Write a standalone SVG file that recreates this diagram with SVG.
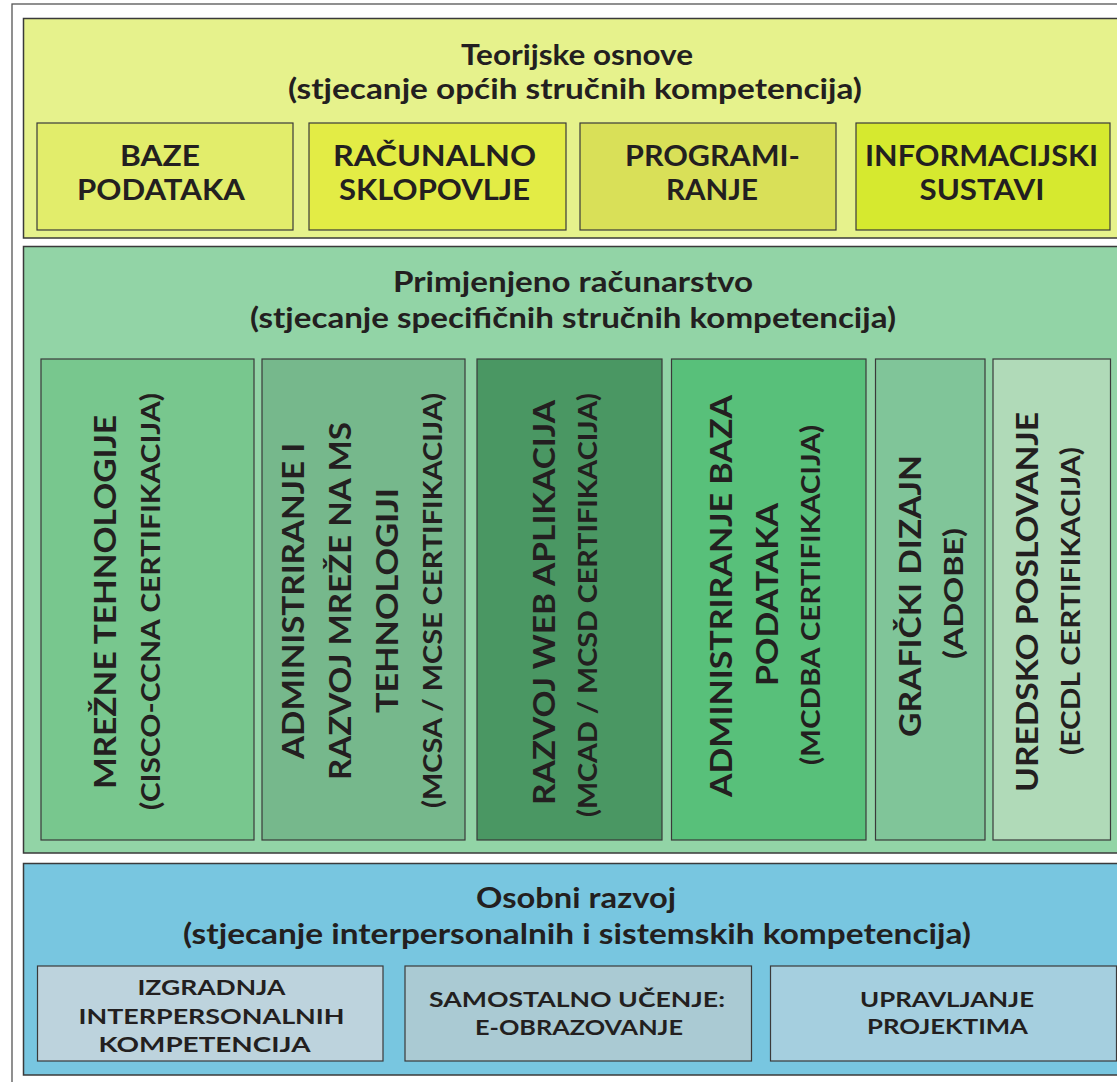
<svg xmlns="http://www.w3.org/2000/svg" width="1117" height="1082" viewBox="0 0 1117 1082">
<style>
.frame{fill:#ffffff;stroke:#555555;stroke-width:1.3}
.sec{stroke:#3a3a3a;stroke-width:1.5}
.box{stroke:#3a3a3a;stroke-width:1.2}
text{font-family:Lato,"Open Sans","Liberation Sans",sans-serif;font-weight:bold;fill:#231f20}
.t{font-size:29px;text-anchor:middle}
.b{font-size:28px;text-anchor:middle}
.s{font-size:20px;text-anchor:middle}
.v{font-size:31px;text-anchor:middle}
.p{font-size:26px;text-anchor:middle}
</style>
<rect class="frame" x="12" y="4" width="1200" height="1200"/>

<g id="teorijske-osnove">
<rect class="sec" x="23.5" y="18.5" width="1110" height="219.5" fill="#e6f28c"/>
<text class="t" x="577" y="64.5" textLength="232" lengthAdjust="spacingAndGlyphs">Teorijske osnove</text>
<text class="t" x="575" y="99" textLength="574" lengthAdjust="spacingAndGlyphs">(stjecanje općih stručnih kompetencija)</text>
</g>
<g id="baze-podataka">
<rect class="box" x="37" y="123" width="256" height="107" fill="#e2ed6b"/>
<text class="b" x="160" y="166" textLength="80" lengthAdjust="spacingAndGlyphs">BAZE</text>
<text class="b" x="161" y="199.5" textLength="168" lengthAdjust="spacingAndGlyphs">PODATAKA</text>
</g>
<g id="racunalno-sklopovlje">
<rect class="box" x="309" y="123" width="257" height="107" fill="#e3ec45"/>
<text class="b" x="434.5" y="166" textLength="203" lengthAdjust="spacingAndGlyphs">RAČUNALNO</text>
<text class="b" x="434.5" y="199.5" textLength="191" lengthAdjust="spacingAndGlyphs">SKLOPOVLJE</text>
</g>
<g id="programiranje">
<rect class="box" x="580" y="123" width="256" height="107" fill="#d9e058"/>
<text class="b" x="712.5" y="166" textLength="175" lengthAdjust="spacingAndGlyphs">PROGRAMI-</text>
<text class="b" x="712" y="199.5" textLength="92" lengthAdjust="spacingAndGlyphs">RANJE</text>
</g>
<g id="informacijski-sustavi">
<rect class="box" x="856" y="123" width="254" height="107" fill="#d6e92f"/>
<text class="b" x="981.5" y="166" textLength="233" lengthAdjust="spacingAndGlyphs">INFORMACIJSKI</text>
<text class="b" x="982" y="199.5" textLength="125" lengthAdjust="spacingAndGlyphs">SUSTAVI</text>
</g>

<g id="primjenjeno-racunarstvo">
<rect class="sec" x="23.5" y="246.5" width="1110" height="606.5" fill="#92d4a6"/>
<text class="t" x="573" y="292" textLength="360" lengthAdjust="spacingAndGlyphs">Primjenjeno računarstvo</text>
<text class="t" x="573" y="327.5" textLength="646" lengthAdjust="spacingAndGlyphs">(stjecanje specifičnih stručnih kompetencija)</text>
</g>
<g id="mrezne-tehnologije">
<rect class="box" x="41" y="359" width="213" height="481" fill="#78c78e"/>
<text class="v" transform="translate(116,602) rotate(-90)" textLength="374" lengthAdjust="spacingAndGlyphs">MREŽNE TEHNOLOGIJE</text>
<text class="p" transform="translate(160,601.5) rotate(-90)" textLength="417" lengthAdjust="spacingAndGlyphs">(CISCO-CCNA CERTIFIKACIJA)</text>
</g>
<g id="administriranje-mreze">
<rect class="box" x="262" y="359" width="203" height="481" fill="#76b88c"/>
<text class="v" transform="translate(304,601) rotate(-90)" textLength="316" lengthAdjust="spacingAndGlyphs">ADMINISTRIRANJE I</text>
<text class="v" transform="translate(351,601) rotate(-90)" textLength="358" lengthAdjust="spacingAndGlyphs">RAZVOJ MREŽE NA MS</text>
<text class="v" transform="translate(398,600.5) rotate(-90)" textLength="225" lengthAdjust="spacingAndGlyphs">TEHNOLOGIJI</text>
<text class="p" transform="translate(442,600.5) rotate(-90)" textLength="415" lengthAdjust="spacingAndGlyphs">(MCSA / MCSE CERTIFIKACIJA)</text>
</g>
<g id="razvoj-web-aplikacija">
<rect class="box" x="477" y="359" width="185" height="481" fill="#4a9763"/>
<text class="v" transform="translate(555,602.5) rotate(-90)" textLength="405" lengthAdjust="spacingAndGlyphs">RAZVOJ WEB APLIKACIJA</text>
<text class="p" transform="translate(597,605) rotate(-90)" textLength="424" lengthAdjust="spacingAndGlyphs">(MCAD / MCSD CERTIFIKACIJA)</text>
</g>
<g id="administriranje-baza">
<rect class="box" x="671.5" y="359" width="194.5" height="481" fill="#58c07a"/>
<text class="v" transform="translate(732,596) rotate(-90)" textLength="402" lengthAdjust="spacingAndGlyphs">ADMINISTRIRANJE BAZA</text>
<text class="v" transform="translate(778,594.5) rotate(-90)" textLength="183" lengthAdjust="spacingAndGlyphs">PODATAKA</text>
<text class="p" transform="translate(820,595) rotate(-90)" textLength="340" lengthAdjust="spacingAndGlyphs">(MCDBA CERTIFIKACIJA)</text>
</g>
<g id="graficki-dizajn">
<rect class="box" x="875.5" y="359" width="109.5" height="481" fill="#80c599"/>
<text class="v" transform="translate(921,596) rotate(-90)" textLength="282" lengthAdjust="spacingAndGlyphs">GRAFIČKI DIZAJN</text>
<text class="p" transform="translate(963,593.5) rotate(-90)" textLength="131" lengthAdjust="spacingAndGlyphs">(ADOBE)</text>
</g>
<g id="uredsko-poslovanje">
<rect class="box" x="993" y="359" width="117.5" height="481" fill="#b0dab8"/>
<text class="v" transform="translate(1038,602) rotate(-90)" textLength="380" lengthAdjust="spacingAndGlyphs">UREDSKO POSLOVANJE</text>
<text class="p" transform="translate(1080,601) rotate(-90)" textLength="308" lengthAdjust="spacingAndGlyphs">(ECDL CERTIFIKACIJA)</text>
</g>

<g id="osobni-razvoj">
<rect class="sec" x="23.5" y="863.5" width="1110" height="211.5" fill="#78c6e0"/>
<text class="t" x="576" y="908" textLength="200" lengthAdjust="spacingAndGlyphs">Osobni razvoj</text>
<text class="t" x="577" y="944" textLength="788" lengthAdjust="spacingAndGlyphs">(stjecanje interpersonalnih i sistemskih kompetencija)</text>
</g>
<g id="interpersonalne-kompetencije">
<rect class="box" x="37.5" y="966" width="345.5" height="95" fill="#bdd3dd"/>
<text class="s" x="211.5" y="995" textLength="148" lengthAdjust="spacingAndGlyphs">IZGRADNJA</text>
<text class="s" x="211.5" y="1024" textLength="266" lengthAdjust="spacingAndGlyphs">INTERPERSONALNIH</text>
<text class="s" x="204.5" y="1051.5" textLength="212" lengthAdjust="spacingAndGlyphs">KOMPETENCIJA</text>
</g>
<g id="samostalno-ucenje">
<rect class="box" x="405" y="966" width="346.5" height="95" fill="#aacad3"/>
<text class="s" x="577" y="1007" textLength="296" lengthAdjust="spacingAndGlyphs">SAMOSTALNO UČENJE:</text>
<text class="s" x="579" y="1035" textLength="208" lengthAdjust="spacingAndGlyphs">E-OBRAZOVANJE</text>
</g>
<g id="upravljanje-projektima">
<rect class="box" x="770.5" y="966" width="346" height="95" fill="#a5cfdf"/>
<text class="s" x="947" y="1006.5" textLength="174" lengthAdjust="spacingAndGlyphs">UPRAVLJANJE</text>
<text class="s" x="947.5" y="1034" textLength="161" lengthAdjust="spacingAndGlyphs">PROJEKTIMA</text>
</g>

<g id="connectors"></g>
</svg>
